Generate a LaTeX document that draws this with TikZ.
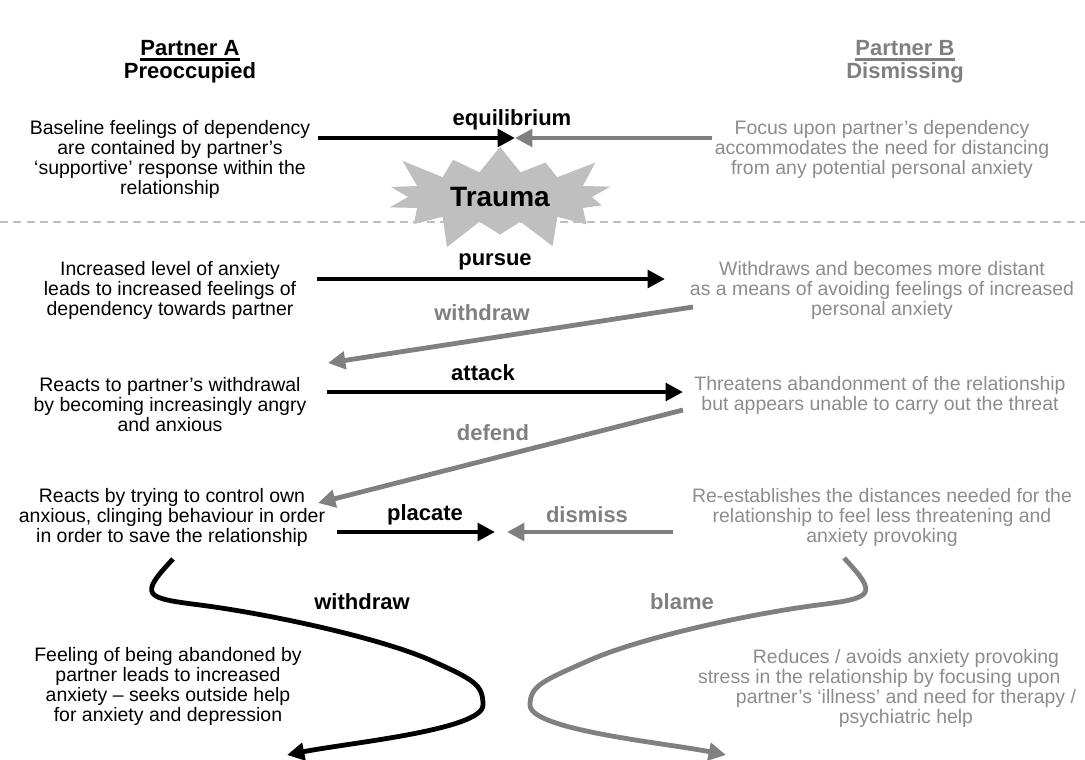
\documentclass[tikz,border=0pt]{standalone}
\usepackage{fontspec}
\setmainfont{Liberation Sans}
\usepackage{tkz-euclide}
\usetikzlibrary{arrows.meta,shapes.symbols}
\definecolor{textB}{gray}{0.55}
\definecolor{lineB}{gray}{0.5}
\definecolor{starfill}{gray}{0.75}
\definecolor{cutline}{gray}{0.75}

\begin{document}
\begin{tikzpicture}[x=0.75pt,y=-0.75pt,
    txtA/.style={align=center,font=\fontsize{14.6}{15}\selectfont},
    txtB/.style={txtA,text=textB},
    lbl/.style={font=\fontsize{16.5}{18}\selectfont\bfseries},
    arrA/.style={line width=3.6pt,-{Triangle[length=13pt,width=13pt]}},
    arrB/.style={arrA,draw=lineB}]
    \useasboundingbox (0,0) rectangle (1085,760);
    % headings
    \node[lbl,inner xsep=0pt] (hA) at (190,48) {Partner A};
    \node[lbl] (pA) at (190,73) {Preoccupied};
    \node[lbl,inner xsep=0pt,text=lineB] (hB) at (905,48) {Partner B};
    \node[lbl,text=lineB] (pB) at (905,73) {Dismissing};
    \draw[line width=1.8pt] ([yshift=-3pt]hA.base west) -- ([yshift=-3pt]hA.base east);
    \draw[line width=1.8pt,lineB] ([yshift=-3pt]hB.base west) -- ([yshift=-3pt]hB.base east);
    % statements
    \node[txtA] (a1) at (170,159) {Baseline feelings of dependency\\are contained by partner’s\\‘supportive’ response within the\\relationship};
    \node[txtB] (b1) at (882,149) {Focus upon partner’s dependency\\accommodates the need for distancing\\from any potential personal anxiety};
    \node[txtA] (a2) at (170,290) {Increased level of anxiety\\leads to increased feelings of\\dependency towards partner};
    \node[txtB] (b2) at (882,290) {Withdraws and becomes more distant\\as a means of avoiding feelings of increased\\personal anxiety};
    \node[txtA] (a3) at (170,405) {Reacts to partner’s withdrawal\\by becoming increasingly angry\\and anxious};
    \node[txtB] (b3) at (880,395) {Threatens abandonment of the relationship\\but appears unable to carry out the threat};
    \node[txtA] (a4) at (172,517) {Reacts by trying to control own\\anxious, clinging behaviour in order\\in order to save the relationship};
    \node[txtB] (b4) at (882,517) {Re-establishes the distances needed for the\\relationship to feel less threatening and\\anxiety provoking};
    \node[txtA] (a5) at (168,686) {Feeling of being abandoned by\\partner leads to increased\\anxiety – seeks outside help\\for anxiety and depression};
    \node[txtB] (b5) at (906,688) {Reduces / avoids anxiety provoking\\stress in the relationship by focusing upon\rule{40pt}{0pt}\\partner’s ‘illness’ and need for therapy /\\psychiatric help};
    % trauma line
    \draw[cutline,line width=1.5pt,dash pattern=on 6pt off 4pt] (0,222) -- (1085,222);
    \node[starburst,fill=starfill,starburst points=14,starburst point height=26pt,
      minimum width=190pt,minimum height=90pt,font=\fontsize{21}{24}\selectfont\bfseries]
      (trauma) at (500,197) {Trauma};
    % arrows
    \tkzDefPoints{318/138/eqA, 515/138/eqM, 712/138/eqB,
      317/279/puA, 665/279/puB, 693/307/wiB, 328/363/wiA,
      327/392/atA, 683/392/atB, 683/410/deB, 318/503/deA,
      337/532/plA, 495/532/plM, 673/532/diB, 507/532/diM}
    \tkzDefPoints{173/559/wdA, 200/605/wd1, 430/660/wd2, 483/705/wd3, 287/755/wdE,
      844/558/blB, 818/605/bl1, 590/660/bl2, 530/705/bl3, 726/755/blE}
    \draw[arrA] (eqA) -- (eqM);
    \draw[arrB] (eqB) -- (eqM);
    \draw[arrA] (puA) -- (puB);
    \draw[arrB] (wiB) -- (wiA);
    \draw[arrA] (atA) -- (atB);
    \draw[arrB] (deB) -- (deA);
    \draw[arrA] (plA) -- (plM);
    \draw[arrB] (diB) -- (diM);
    \draw[arrA] (wdA) .. controls +(-35,37) and +(-55,-7) .. (wd1)
      .. controls +(70,9) and +(-50,-22) .. (wd2)
      .. controls +(45,20) and +(0,-20) .. (wd3)
      .. controls +(0,25) and +(60,-12) .. (wdE);
    \draw[arrB] (blB) .. controls +(35,37) and +(55,-7) .. (bl1)
      .. controls +(-70,9) and +(50,-22) .. (bl2)
      .. controls +(-45,20) and +(0,-20) .. (bl3)
      .. controls +(0,25) and +(-60,-12) .. (blE);
    % labels
    \node[lbl] (lEq) at (512,120) {equilibrium};
    \node[lbl] (lPu) at (495,262) {pursue};
    \node[lbl,text=lineB] (lWi) at (482,313) {withdraw};
    \node[lbl] (lAt) at (483,373) {attack};
    \node[lbl,text=lineB] (lDe) at (493,433) {defend};
    \node[lbl] (lPl) at (425,515) {placate};
    \node[lbl,text=lineB] (lDi) at (587,515) {dismiss};
    \node[lbl] (lWd) at (362,602) {withdraw};
    \node[lbl,text=lineB] (lBl) at (682,602) {blame};
\end{tikzpicture}
\end{document}
